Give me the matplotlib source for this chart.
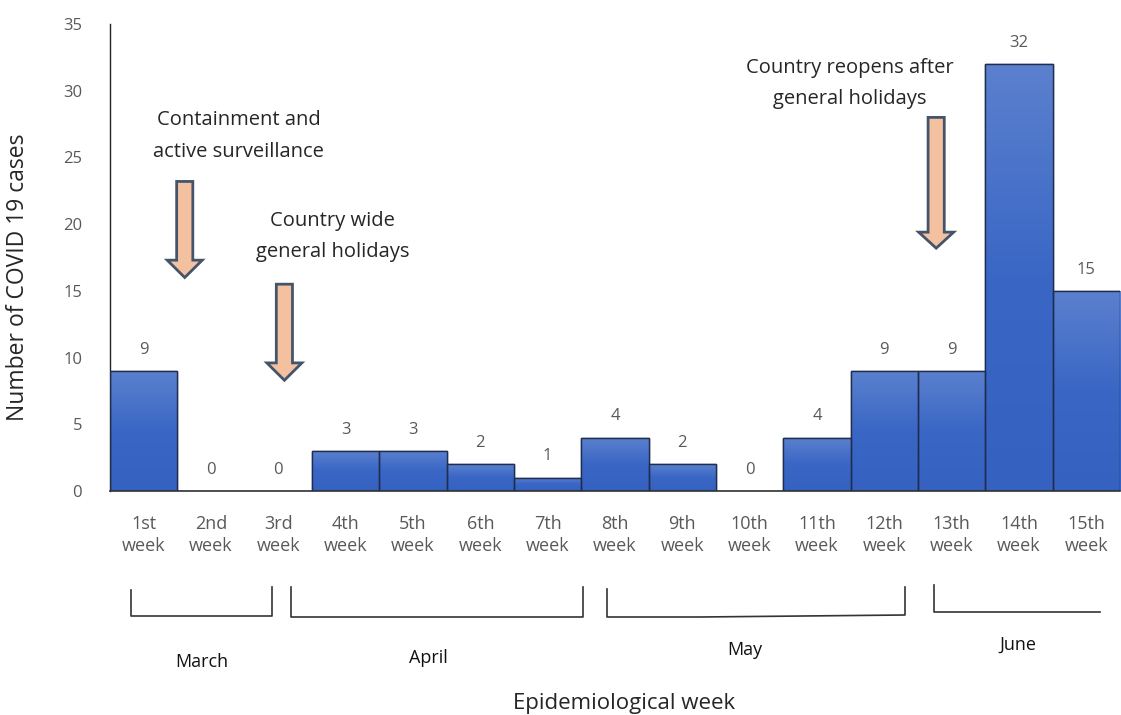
import numpy as np
import matplotlib
matplotlib.use("Agg")
import matplotlib.pyplot as plt
from matplotlib.patches import Polygon
from matplotlib.lines import Line2D
from matplotlib.colors import LinearSegmentedColormap

# ---- data ----
weeks = ["1st\nweek", "2nd\nweek", "3rd\nweek", "4th\nweek", "5th\nweek", "6th\nweek",
         "7th\nweek", "8th\nweek", "9th\nweek", "10th\nweek", "11th\nweek", "12th\nweek",
         "13th\nweek", "14th\nweek", "15th\nweek"]
cases = [9, 0, 0, 3, 3, 2, 1, 4, 2, 0, 4, 9, 9, 32, 15]
months = ["March", "April", "May", "June"]
yticks = [0, 5, 10, 15, 20, 25, 30, 35]

plt.rcParams['font.family'] = ['Open Sans', 'DejaVu Sans']

W, H = 1121, 715
fig = plt.figure(figsize=(W / 100, H / 100), dpi=100)
ax = fig.add_axes([110 / W, 1 - 491 / H, (1120 - 110) / W, (491 - 24) / H])

x = np.arange(len(cases))
bars = ax.bar(x, cases, width=1.0, color='#4472C4', edgecolor='#1F2D4F', linewidth=1.0, zorder=2)

# gradient fill
cmap = LinearSegmentedColormap.from_list('g', ['#3561C0', '#3A67C5', '#5B80CE'])
grad = np.linspace(0, 1, 256).reshape(-1, 1)
for b, v in zip(bars, cases):
    if v <= 0:
        continue
    bx, bw = b.get_x(), b.get_width()
    im = ax.imshow(grad, cmap=cmap, origin='lower', aspect='auto',
                   extent=[bx, bx + bw, 0, v], zorder=2.5)
    im.set_clip_path(b)
    ax.bar(bx + bw / 2, v, width=bw, fill=False, edgecolor='#1F2D4F', linewidth=1.0, zorder=3)

ax.set_xlim(-0.5, len(cases) - 0.5)
ax.set_ylim(0, 35)
ax.set_yticks(yticks)
ax.tick_params(axis='y', length=0, pad=20, labelsize=12, labelcolor='#595959')
ax.set_xticks(x)
ax.set_xticklabels(weeks, fontsize=13, color='#595959', linespacing=1.3)
ax.tick_params(axis='x', length=0, pad=17)
for s in ['top', 'right']:
    ax.spines[s].set_visible(False)
ax.spines['left'].set_color('#222222')
ax.spines['bottom'].set_color('#333333')
ax.spines['left'].set_linewidth(1.0)
ax.spines['bottom'].set_linewidth(1.2)

for xi, v in zip(x, cases):
    ax.text(xi, v + 1.0, str(v), ha='center', va='bottom', fontsize=12, color='#595959')

ax.set_ylabel("Number of COVID 19 cases", fontsize=16.5, color='#262626')
ax.yaxis.set_label_coords(-(110 - 30) / (1120 - 110), (491 - 277) / (491 - 24))

# annotations
ann_kw = dict(ha='center', va='center', fontsize=14.5, color='#262626', linespacing=1.75)
ax.text(1.41, 26.6, "Containment and\nactive surveillance", **ann_kw)
ax.text(2.81, 19.1, "Country wide\ngeneral holidays", **ann_kw)
ax.text(10.49, 30.55, "Country reopens after\ngeneral holidays", **ann_kw)

def block_arrow(cx, ytop, yhead, ytip, sw=0.12, hw=0.26):
    pts = [(cx - sw, ytop), (cx + sw, ytop), (cx + sw, yhead), (cx + hw, yhead),
           (cx, ytip), (cx - hw, yhead), (cx - sw, yhead)]
    ax.add_patch(Polygon(pts, closed=True, facecolor='#F4C1A0', edgecolor='#44546A',
                         linewidth=2.0, zorder=4))

block_arrow(0.61, 23.2, 17.3, 16.0)
block_arrow(2.09, 15.5, 9.6, 8.3)
block_arrow(11.77, 28.0, 19.4, 18.2)

# month brackets (figure pixel coords)
def line(pxs, pys, lw=1.2, color='#333333'):
    xs = [p / W for p in pxs]
    ys = [1 - p / H for p in pys]
    fig.add_artist(Line2D(xs, ys, color=color, linewidth=lw))

line([131, 131, 250, 272, 272], [590, 616, 616, 616, 587])
line([291, 291, 583, 583], [587, 617, 617, 587])
line([607, 607, 700, 905, 905], [589, 617, 617, 615, 587])
line([934, 934, 1100], [585, 612, 612])

month_pos = [(202, 662), (428, 658), (745, 650), (1018, 645)]
for m, (px, py) in zip(months, month_pos):
    fig.text(px / W, 1 - py / H, m, ha='center', va='center', fontsize=13, color='#111111')

fig.text(624 / W, 1 - 703 / H, "Epidemiological week", ha='center', va='center',
         fontsize=16, color='#262626')

fig.savefig("out.png", dpi=100, facecolor='white')
